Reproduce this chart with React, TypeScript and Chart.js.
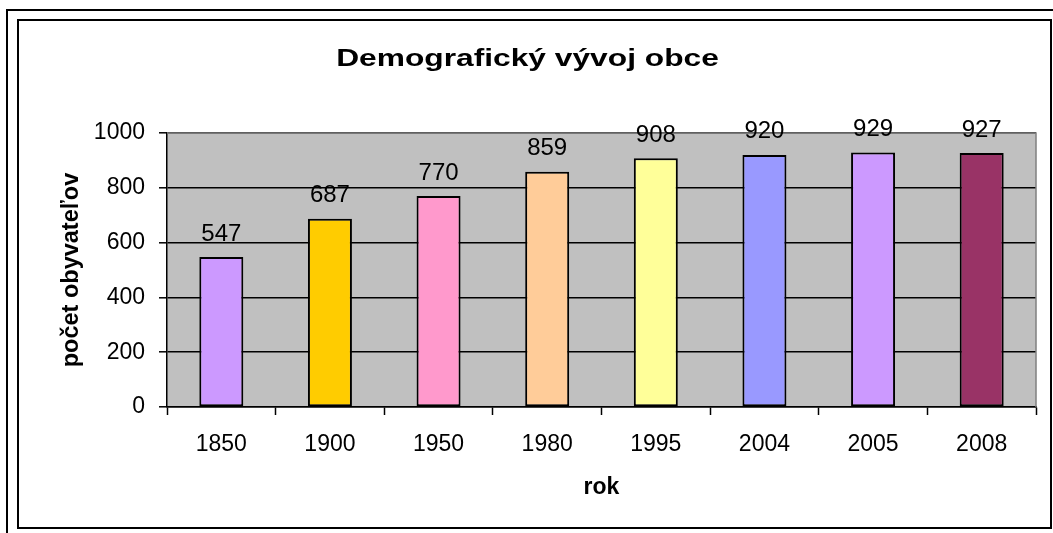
import React, { useEffect, useRef } from "react";
import { Chart, registerables } from "chart.js";

Chart.register(...registerables);

const years = ["1850", "1900", "1950", "1980", "1995", "2004", "2005", "2008"];
const population = [547, 687, 770, 859, 908, 920, 929, 927];
const barColors = ["#CC99FF", "#FFCC00", "#FF99CC", "#FFCC99", "#FFFF99", "#9999FF", "#CC99FF", "#993366"];
const yMin = 0;
const yMax = 1000;
const yStep = 200;
const chartTitle = "Demografický vývoj obce";
const xTitle = "rok";
const yTitle = "počet obyvateľov";

const FONT = "'Liberation Sans', Arial, Helvetica, sans-serif";
const W = 1053;
const H = 533;

const framePlugin = {
  id: "frame",
  beforeDraw(chart: any) {
    const ctx = chart.ctx;
    const a = chart.chartArea;
    ctx.save();
    ctx.fillStyle = "#FFFFFF";
    ctx.fillRect(0, 0, W, H);
    ctx.fillStyle = "#000000";
    // outer frame (top & left)
    ctx.fillRect(6, 9, W - 6, 2);
    ctx.fillRect(6, 9, 2, H - 9);
    // inner frame
    ctx.fillRect(17, 19, 1035, 2);
    ctx.fillRect(17, 527, 1035, 2);
    ctx.fillRect(17, 19, 2, 510);
    ctx.fillRect(1050, 19, 2, 510);
    // plot background
    ctx.fillStyle = "#C0C0C0";
    ctx.fillRect(a.left, a.top, a.right - a.left, a.bottom - a.top);
    // chart title (wide, as in the reference)
    ctx.fillStyle = "#000000";
    ctx.font = `bold 23.5px ${FONT}`;
    ctx.textAlign = "center";
    ctx.textBaseline = "alphabetic";
    ctx.translate(527.5, 66);
    ctx.scale(1.35, 1);
    ctx.fillText(chartTitle, 0, 0);
    ctx.restore();
  },
  beforeDatasetsDraw(chart: any) {
    const ctx = chart.ctx;
    const a = chart.chartArea;
    ctx.save();
    ctx.strokeStyle = "#808080";
    ctx.lineWidth = 1.5;
    ctx.beginPath();
    ctx.moveTo(a.left, a.top);
    ctx.lineTo(a.right, a.top);
    ctx.lineTo(a.right, a.bottom);
    ctx.stroke();
    ctx.restore();
  },
};

const valueLabelPlugin = {
  id: "valueLabels",
  afterDatasetsDraw(chart: any) {
    const ctx = chart.ctx;
    const meta = chart.getDatasetMeta(0);
    const data = chart.data.datasets[0].data as number[];
    ctx.save();
    ctx.fillStyle = "#000000";
    ctx.font = `24px ${FONT}`;
    ctx.textAlign = "center";
    ctx.textBaseline = "alphabetic";
    meta.data.forEach((bar: any, i: number) => {
      ctx.fillText(String(data[i]), bar.x, bar.y - 16.5);
    });
    ctx.restore();
  },
};

export default function App() {
  const canvasRef = useRef<HTMLCanvasElement | null>(null);

  useEffect(() => {
    const canvas = canvasRef.current;
    if (!canvas) return;
    const chart = new Chart(canvas, {
      type: "bar",
      data: {
        labels: years,
        datasets: [
          {
            data: population,
            backgroundColor: barColors,
            borderColor: "#000000",
            borderWidth: 2,
            borderSkipped: false,
            barPercentage: 0.405,
            categoryPercentage: 1,
          },
        ],
      },
      options: {
        responsive: false,
        animation: false,
        devicePixelRatio: 1,
        layout: { padding: { left: 0, right: 17, top: 133, bottom: 0 } },
        plugins: {
          legend: { display: false },
          tooltip: { enabled: false },
          title: { display: false },
        },
        scales: {
          x: {
            afterFit: (scale: any) => {
              scale.height = H - 407;
            },
            grid: {
              display: true,
              drawOnChartArea: false,
              drawTicks: true,
              tickLength: 8,
              tickColor: "#000000",
              tickWidth: 1.5,
              offset: true,
            },
            border: { display: true, color: "#000000", width: 1.5 },
            ticks: {
              color: "#000000",
              font: { family: FONT, size: 23 },
              padding: 16,
              maxRotation: 0,
            },
            title: {
              display: true,
              text: xTitle,
              color: "#000000",
              font: { family: FONT, size: 23, weight: "bold" },
              padding: { top: 0, bottom: 31.5 },
            },
          },
          y: {
            min: yMin,
            max: yMax,
            afterFit: (scale: any) => {
              scale.width = 167;
            },
            grid: {
              color: "#000000",
              lineWidth: 1.6,
              drawTicks: true,
              tickLength: 8,
              tickColor: "#000000",
              tickWidth: 1.5,
            },
            border: { display: true, color: "#000000", width: 1.5 },
            ticks: {
              stepSize: yStep,
              color: "#000000",
              font: { family: FONT, size: 23 },
              padding: 14,
              callback: (v: any) => String(v),
            },
            title: {
              display: true,
              text: yTitle,
              color: "#000000",
              font: { family: FONT, size: 23.5, weight: "bold" },
              padding: { top: 57.9, bottom: 0 },
            },
          },
        },
      },
      plugins: [framePlugin, valueLabelPlugin],
    });
    return () => chart.destroy();
  }, []);

  return (
    <div style={{ position: "absolute", left: 0, top: 0, width: W, height: H, background: "#fff" }}>
      <canvas ref={canvasRef} width={W} height={H} style={{ display: "block", width: W, height: H }} />
    </div>
  );
}
